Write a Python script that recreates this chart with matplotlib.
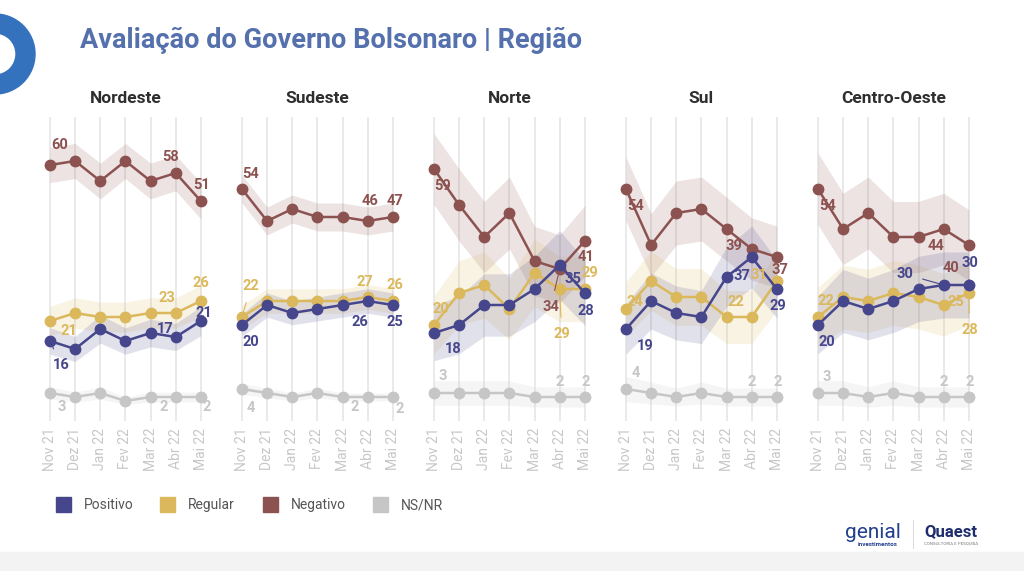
import numpy as np
import matplotlib
matplotlib.use("Agg")
import matplotlib.pyplot as plt
from matplotlib.patches import Rectangle, Wedge

plt.rcParams['font.family'] = ['Roboto', 'DejaVu Sans']

# dados
meses = ["Nov 21", "Dez 21", "Jan 22", "Fev 22", "Mar 22", "Abr 22", "Mai 22"]
regioes = ["Nordeste", "Sudeste", "Norte", "Sul", "Centro-Oeste"]
series = ["Positivo", "Regular", "Negativo", "NS/NR"]

positivo = [
    [16, 14, 19, 16, 18, 17, 21],
    [20, 25, 23, 24, 25, 26, 25],
    [18, 20, 25, 25, 29, 35, 28],
    [19, 26, 23, 22, 32, 37, 29],
    [20, 26, 24, 26, 29, 30, 30],
]
regular = [
    [21, 23, 22, 22, 23, 23, 26],
    [22, 26, 26, 26, 26, 27, 26],
    [20, 28, 30, 24, 33, 29, 29],
    [24, 31, 27, 27, 22, 22, 31],
    [22, 27, 26, 28, 27, 25, 28],
]
negativo = [
    [60, 61, 56, 61, 56, 58, 51],
    [54, 46, 49, 47, 47, 46, 47],
    [59, 50, 42, 48, 36, 34, 41],
    [54, 40, 48, 49, 44, 39, 37],
    [54, 44, 48, 42, 42, 44, 40],
]
nsnr = [
    [3, 2, 3, 1, 2, 2, 2],
    [4, 3, 2, 3, 2, 2, 2],
    [3, 3, 3, 3, 2, 2, 2],
    [4, 3, 2, 3, 2, 2, 2],
    [3, 3, 2, 3, 2, 2, 2],
]
# margem de erro aproximada por região (p.p.)
margem = [4.5, 3.5, 9, 8, 9]

cores = {"Positivo": "#46468c", "Regular": "#dbb85c", "Negativo": "#8c5250", "NS/NR": "#c6c6c6"}

# rótulos: (série, índice do mês, dx, dy em pixels, linha-guia)
rotulos = [
    [("Negativo", 0, 10, 20, True), ("Negativo", 5, -5, 16, False), ("Negativo", 6, 1, 16, False),
     ("Regular", 0, 19, -10, False), ("Regular", 5, -9, 15, False), ("Regular", 6, 0, 18, False),
     ("Positivo", 0, 11, -24, True), ("Positivo", 5, -10, 8, False), ("Positivo", 6, 3, 8, False),
     ("NS/NR", 0, 12, -14, False), ("NS/NR", 5, -12, -10, False), ("NS/NR", 6, 6, -10, False)],
    [("Negativo", 0, 9, 15, False), ("Negativo", 5, 2, 20, True), ("Negativo", 6, 2, 16, False),
     ("Regular", 0, 9, 31, True), ("Regular", 5, -3, 15, False), ("Regular", 6, 2, 16, False),
     ("Positivo", 0, 9, -17, False), ("Positivo", 5, -8, -21, True), ("Positivo", 6, 2, -17, False),
     ("NS/NR", 0, 9, -19, True), ("NS/NR", 5, -13, -10, False), ("NS/NR", 6, 7, -12, False)],
    [("Negativo", 0, 9, -17, False), ("Negativo", 5, -9, -38, True), ("Negativo", 6, 1, -16, False),
     ("Regular", 0, 7, 16, False), ("Regular", 5, 2, -45, True), ("Regular", 6, 5, 16, False),
     ("Positivo", 0, 19, -16, True), ("Positivo", 5, 13, -14, True), ("Positivo", 6, 1, -18, False),
     ("NS/NR", 0, 9, 17, True), ("NS/NR", 5, 0, 15, False), ("NS/NR", 6, 1, 15, False)],
    [("Negativo", 0, 10, -17, False), ("Negativo", 5, -18, 3, False), ("Negativo", 6, 3, -13, False),
     ("Regular", 0, 9, 7, False), ("Regular", 5, -16, 15, True), ("Regular", 6, -18, 6, False),
     ("Positivo", 0, 19, -17, True), ("Positivo", 5, -10, -19, False), ("Positivo", 6, 1, -17, False),
     ("NS/NR", 0, 10, 16, True), ("NS/NR", 5, 0, 15, False), ("NS/NR", 6, 1, 15, False)],
    [("Negativo", 0, 10, -17, False), ("Negativo", 5, -8, -17, False), ("Negativo", 6, -18, -23, False),
     ("Regular", 0, 8, 16, False), ("Regular", 5, 12, 3, False), ("Regular", 6, 1, -37, True),
     ("Positivo", 0, 9, -17, False), ("Positivo", 5, -39, 11, True), ("Positivo", 6, 1, 22, True),
     ("NS/NR", 0, 9, 16, False), ("NS/NR", 5, 0, 15, False), ("NS/NR", 6, 1, 15, False)],
]

W, H = 1024, 571
fig = plt.figure(figsize=(W / 100, H / 100), dpi=100)
fig.patch.set_facecolor("white")


def fx(px):
    return px / W


def fy(py):
    return 1 - py / H


x = np.arange(len(meses))
passo = 192
largura = 176
for i, reg in enumerate(regioes):
    ax = fig.add_axes([fx(37.4 + passo * i), fy(421), fx(largura), fy(117) - fy(421)])
    ax.set_xlim(-0.5, 6.5)
    ax.set_ylim(-4, 72)
    for s in ax.spines.values():
        s.set_visible(False)
    ax.set_yticks([])
    ax.set_xticks(x)
    ax.set_xticklabels(meses, rotation=90, fontsize=10, color="#c8c8c8")
    ax.tick_params(axis="x", length=0, pad=5)
    for xi in x:
        ax.axvline(xi, color="#e6e6e6", lw=1.2, zorder=0)
    ax.set_title(reg, fontsize=12.5, fontweight="bold", color="#2e2e2e", pad=10)

    dados = {"Positivo": positivo[i], "Regular": regular[i], "Negativo": negativo[i], "NS/NR": nsnr[i]}
    for nome in ["NS/NR", "Negativo", "Regular", "Positivo"]:
        v = np.array(dados[nome], dtype=float)
        p = v / 100
        e = margem[i] * np.sqrt(p * (1 - p)) / 0.5
        ax.fill_between(x, v - e, v + e, color=cores[nome], alpha=0.16, lw=0, zorder=1)
    for nome in ["NS/NR", "Negativo", "Regular", "Positivo"]:
        ax.plot(x, dados[nome], color=cores[nome], lw=1.8, marker="o", markersize=7.5, zorder=3)

    for nome, k, dx, dy, guia in rotulos[i]:
        val = dados[nome][k]
        ax.annotate(str(val), (x[k], val), xytext=(dx, dy), textcoords="offset pixels",
                    ha="center", va="center", fontsize=10.5, fontweight="bold", color=cores[nome],
                    zorder=5,
                    arrowprops=dict(arrowstyle="-", color=cores[nome], lw=0.8, shrinkA=5, shrinkB=3)
                    if guia else None)

# título
fig.text(fx(80), fy(40), "Avaliação do Governo Bolsonaro | Região", fontsize=19.5, fontweight="bold",
         color="#5470ad", ha="left", va="center")

# anel azul (em polegadas, para ficar redondo)
fig.patches.append(Wedge((-0.05, (H - 54) / 100), 0.40, -90, 90, width=0.19, color="#3572bd",
                         transform=fig.dpi_scale_trans, figure=fig))

# legenda
leg_x = [56, 160, 263, 373]
for xs, nome in zip(leg_x, series):
    fig.patches.append(Rectangle((fx(xs), fy(512)), fx(15), fy(497) - fy(512), color=cores[nome],
                                 transform=fig.transFigure, figure=fig))
    fig.text(fx(xs + 28), fy(505), nome, fontsize=10, color="#555555", ha="left", va="center")

# rodapé
fig.patches.append(Rectangle((0, 0), 1, fy(552), color="#f3f3f3", transform=fig.transFigure,
                             figure=fig, zorder=0))
fig.text(fx(845), fy(532), "genial", fontsize=15, color="#23408e", ha="left", va="center")
fig.text(fx(858), fy(544), "investimentos", fontsize=4.5, fontweight="bold", color="#23408e",
         ha="left", va="center")
fig.add_artist(plt.Line2D([fx(913), fx(913)], [fy(520), fy(548)], color="#dddddd", lw=0.8,
                          transform=fig.transFigure))
fig.text(fx(924), fy(532), "Quaest", fontsize=12, fontweight="bold", color="#1e2d6e",
         ha="left", va="center")
fig.text(fx(924), fy(544), "CONSULTORIA E PESQUISA", fontsize=3.2, color="#777777",
         ha="left", va="center")

fig.savefig("out.png", dpi=100)
